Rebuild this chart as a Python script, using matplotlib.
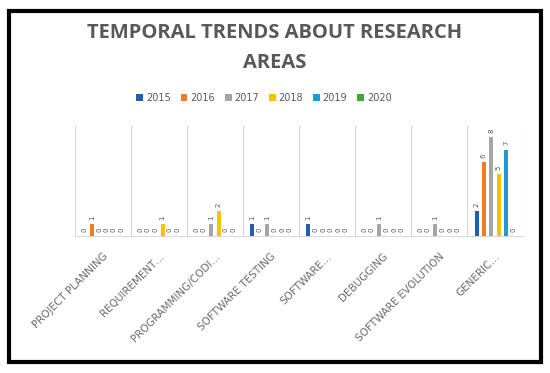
import matplotlib
matplotlib.use("Agg")
import matplotlib.pyplot as plt
import numpy as np
from matplotlib.patches import Rectangle

# dados
areas = ["PROJECT PLANNING", "REQUIREMENT…", "PROGRAMMING/CODI…", "SOFTWARE TESTING",
         "SOFTWARE…", "DEBUGGING", "SOFTWARE EVOLUTION", "GENERIC…"]
anos = ["2015", "2016", "2017", "2018", "2019", "2020"]
y2015 = [0, 0, 0, 1, 1, 0, 0, 2]
y2016 = [1, 0, 0, 0, 0, 0, 0, 6]
y2017 = [0, 0, 1, 1, 0, 1, 1, 8]
y2018 = [0, 1, 2, 0, 0, 0, 0, 5]
y2019 = [0, 0, 0, 0, 0, 0, 0, 7]
y2020 = [0, 0, 0, 0, 0, 0, 0, 0]
series = [y2015, y2016, y2017, y2018, y2019, y2020]
cores = ["#1F5FAD", "#F47B20", "#A5A5A5", "#FFC000", "#1E9AD6", "#3AAA35"]

cinza = "#595959"

fig = plt.figure(figsize=(5.5, 3.73), dpi=100)
ax = fig.add_axes([0.136, 0.367, 0.815, 0.298])

x = np.arange(len(areas))
passo = 0.132
larg = 0.072
for i, (vals, cor, ano) in enumerate(zip(series, cores, anos)):
    pos = x + (i - 2.5) * passo
    ax.bar(pos, vals, width=larg, color=cor, label=ano, zorder=3)
    # rotulos de dados (verticais)
    for px, v in zip(pos, vals):
        ax.annotate(str(v), (px, v), xytext=(0, 3), textcoords="offset points",
                    rotation=90, ha="center", va="bottom", fontsize=5, color=cinza)

ax.set_xlim(-0.5, len(areas) - 0.5)
ax.set_ylim(0, 9)
ax.set_yticks([])
for b in np.arange(-0.5, len(areas), 1):
    ax.axvline(b, color="#D9D9D9", lw=0.8, zorder=1)
for s in ["top", "right", "left"]:
    ax.spines[s].set_visible(False)
ax.spines["bottom"].set_color("#D9D9D9")
ax.set_xticks(x)
ax.set_xticklabels(areas, rotation=45, ha="right", rotation_mode="anchor",
                   fontsize=7.5, color="#6b6b6b")
ax.tick_params(axis="x", length=0, pad=11)

fig.text(0.5, 1 - 33 / 373, "TEMPORAL TRENDS ABOUT RESEARCH", ha="center", va="center",
         fontsize=14.5, fontweight="bold", color=cinza, family="Open Sans")
fig.text(0.5, 1 - 63 / 373, "AREAS", ha="center", va="center",
         fontsize=14.5, fontweight="bold", color=cinza, family="Open Sans")

fig.legend(loc="center", bbox_to_anchor=(264 / 550, 1 - 98 / 373), ncol=6,
           frameon=False, fontsize=7, handlelength=0.7, handleheight=0.7,
           handletextpad=0.3, columnspacing=1.0, labelcolor=cinza)

# moldura preta
fig.patches.append(Rectangle((9 / 550, 11 / 373), 532 / 550, 351 / 373, transform=fig.transFigure,
                             fill=False, edgecolor="black", lw=3))

fig.savefig("out.png", dpi=100)
